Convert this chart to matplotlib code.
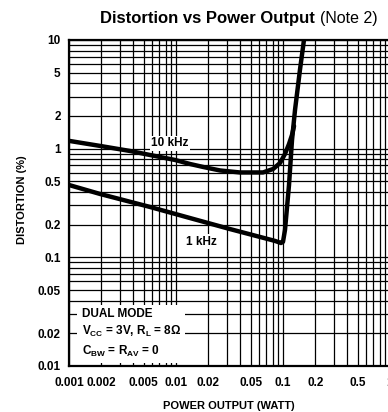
import matplotlib
matplotlib.use("Agg")
import matplotlib.pyplot as plt
from matplotlib import font_manager
import numpy as np

names = {f.name for f in font_manager.fontManager.ttflist}
cond = [n for n in ['Liberation Sans Narrow', 'DejaVu Sans Condensed'] if n in names]
plt.rcParams['font.family'] = cond + ['Liberation Sans', 'DejaVu Sans']
plt.rcParams['mathtext.fontset'] = 'custom'
base = (cond + ['Liberation Sans'])[0]
plt.rcParams['mathtext.rm'] = base + ':bold'
plt.rcParams['mathtext.it'] = base + ':bold'
plt.rcParams['mathtext.bf'] = base + ':bold'

# ---- data ----
x_1khz = [0.001, 0.00195, 0.0057, 0.0135, 0.032, 0.061, 0.0842, 0.0957, 0.1,
          0.1044, 0.1138, 0.1214, 0.1295, 0.144, 0.157, 0.165]
y_1khz = [0.463, 0.383, 0.291, 0.230, 0.182, 0.154, 0.1416, 0.1355, 0.139,
          0.179, 0.463, 1.2, 2.27, 5.3, 10.0, 13.0]

x_10khz = [0.001, 0.00195, 0.0037, 0.0057, 0.0098, 0.0135, 0.0179, 0.0258, 0.0396,
           0.065, 0.0808, 0.0938, 0.1044, 0.1138, 0.1214, 0.1268]
y_10khz = [1.18, 1.06, 0.953, 0.875, 0.787, 0.723, 0.679, 0.630, 0.604,
           0.604, 0.650, 0.738, 0.894, 1.104, 1.337, 1.618]

x_ticks = [0.001, 0.002, 0.005, 0.01, 0.02, 0.05, 0.1, 0.2, 0.5, 1]
x_ticklabels = ['0.001', '0.002', '0.005', '0.01', '0.02', '0.05', '0.1', '0.2', '0.5', '1']
y_ticks = [0.01, 0.02, 0.05, 0.1, 0.2, 0.5, 1, 2, 5, 10]
y_ticklabels = ['0.01', '0.02', '0.05', '0.1', '0.2', '0.5', '1', '2', '5', '10']

W, H = 388, 412
fig = plt.figure(figsize=(W / 100, H / 100), dpi=100)
ax = fig.add_axes([69 / W, (H - 366) / H, 321 / W, 326 / H])
ax.set_xscale('log')
ax.set_yscale('log')
ax.set_xlim(0.001, 1)
ax.set_ylim(0.01, 10)

ax.grid(True, which='both', color='black', lw=0.9)
ax.set_axisbelow(True)
for s in ax.spines.values():
    s.set_linewidth(1.6)

ax.plot(x_10khz, y_10khz, color='black', lw=3.2, solid_capstyle='round', solid_joinstyle='round', zorder=5)
ax.plot(x_1khz, y_1khz, color='black', lw=3.2, solid_capstyle='round', solid_joinstyle='round', zorder=5)

ax.set_xticks(x_ticks)
ax.set_xticklabels(x_ticklabels)
ax.set_yticks(y_ticks)
ax.set_yticklabels(y_ticklabels)
ax.minorticks_on()
ax.tick_params(which='both', length=0)
ax.tick_params(axis='x', labelsize=8.5, pad=8)
ax.tick_params(axis='y', labelsize=8.5, pad=6)
for lab in ax.get_xticklabels() + ax.get_yticklabels():
    lab.set_fontweight('bold')

ax.set_xlabel('POWER OUTPUT (WATT)', fontsize=8, fontweight='bold')
ax.set_ylabel('DISTORTION (%)', fontsize=8, fontweight='bold')
ax.xaxis.set_label_coords((229 - 69) / 321, (366 - 406) / 326)
ax.xaxis.label.set_va('center')
ax.yaxis.set_label_coords((22 - 69) / 321, (366 - 200) / 326)
ax.yaxis.label.set_va('center')

bb = dict(facecolor='white', edgecolor='none', pad=1.0)
ax.text(0.0088, 1.12, '10 kHz', fontsize=8.5, fontweight='bold', ha='center', va='center', bbox=bb, zorder=4)
ax.text(0.0171, 0.139, '1 kHz', fontsize=8.5, fontweight='bold', ha='center', va='center', bbox=bb, zorder=4)

box_txt = ('DUAL MODE\n'
           r'V$_{\mathrm{CC}}$ = 3V, R$_{\mathrm{L}}$ = 8$\Omega$' + '\n'
           r'C$_{\mathrm{BW}}$ = R$_{\mathrm{AV}}$ = 0')
ax.text(0.00131, 0.0116, box_txt, fontsize=8.5, fontweight='bold', ha='left', va='bottom',
        linespacing=1.4, bbox=dict(facecolor='white', edgecolor='none', pad=3), zorder=4)

fig.text(315 / W, 1 - 18 / H, 'Distortion vs Power Output', fontsize=12, fontweight='bold',
         family=['Liberation Sans', 'DejaVu Sans'], ha='right', va='center')
fig.text(320 / W, 1 - 18 / H, '(Note 2)', fontsize=11.5,
         family=['Liberation Sans', 'DejaVu Sans'], ha='left', va='center')

fig.savefig('out.png', dpi=100)
